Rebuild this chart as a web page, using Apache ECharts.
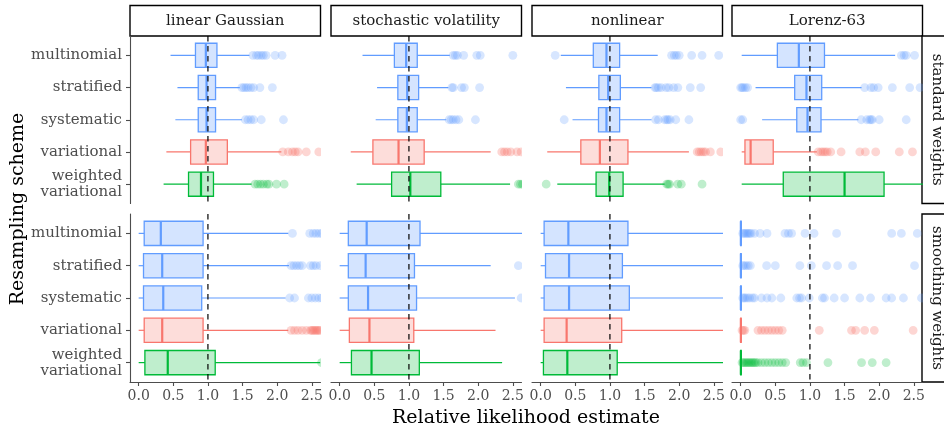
<!DOCTYPE html>
<html>
<head>
<meta charset="utf-8">
<script src="https://cdn.jsdelivr.net/npm/echarts@6/dist/echarts.min.js"></script>
<style>html,body{margin:0;padding:0;background:#fff}#c{width:944px;height:431px}</style>
</head>
<body>
<div id="c"></div>
<script>
// ---------- data ----------
const schemes = ['multinomial', 'stratified', 'systematic', 'variational', 'weighted\nvariational'];
const models = ['linear Gaussian', 'stochastic volatility', 'nonlinear', 'Lorenz-63'];
const weightings = ['standard weights', 'smoothing weights'];
const xTicks = [0, 0.5, 1, 1.5, 2, 2.5];
const refValue = 1;

// box stats per scheme: [lower whisker, Q1, median, Q3, upper whisker]
const boxLinGaussStd = [[0.46,0.82,0.97,1.13,1.60],[0.56,0.86,0.98,1.11,1.46],[0.53,0.86,0.98,1.11,1.49],[0.40,0.75,0.97,1.28,2.06],[0.36,0.72,0.90,1.08,1.63]];
const outLinGaussStd = [[1.65,1.70,1.73,1.77,1.80,1.84,1.97,2.07],[1.49,1.52,1.55,1.58,1.62,1.66,1.75,1.93],[1.54,1.58,1.62,1.66,1.77,2.09],[2.08,2.16,2.22,2.26,2.30,2.42,2.60],[1.68,1.72,1.76,1.80,1.85,1.88,1.99,2.10]];
const boxLinGaussSmo = [[0.0,0.08,0.32,0.93,2.16],[0.0,0.07,0.34,0.93,2.17],[0.0,0.07,0.355,0.91,2.12],[0.0,0.08,0.34,0.93,2.16],[0.0,0.09,0.42,1.105,2.62]];
const outLinGaussSmo = [[2.22,2.47,2.52,2.56,2.60,2.64],[2.20,2.24,2.28,2.32,2.36,2.48,2.52,2.56,2.62],[2.18,2.25,2.45,2.50,2.55,2.60,2.64],[2.20,2.25,2.30,2.36,2.42,2.48,2.50,2.52,2.54,2.56,2.58,2.60,2.62],[2.64]];

const boxStochVolStd = [[0.33,0.79,0.96,1.12,1.59],[0.54,0.84,0.975,1.14,1.57],[0.52,0.84,0.97,1.12,1.54],[0.16,0.48,0.85,1.22,2.18],[0.245,0.75,1.02,1.46,2.46]];
const outStochVolStd = [[1.64,1.67,1.70,1.79,1.98,2.03,2.50],[1.62,1.64,1.76,1.80,2.02],[1.58,1.61,1.64,1.68,1.72,1.96],[2.34,2.38,2.42,2.47,2.56,2.62],[2.58,2.61,2.64]];
const boxStochVolSmo = [[0.0,0.125,0.39,1.16,2.70],[0.0,0.125,0.375,1.08,2.18],[0.0,0.125,0.41,1.11,2.53],[0.0,0.14,0.43,1.07,2.25],[0.0,0.17,0.46,1.15,2.345]];
const outStochVolSmo = [[],[2.58],[2.62],[],[]];

const boxNonlinStd = [[0.29,0.76,0.95,1.14,1.69],[0.365,0.84,0.975,1.15,1.60],[0.46,0.835,0.95,1.14,1.60],[0.095,0.58,0.855,1.26,2.14],[0.24,0.80,0.99,1.19,1.79]];
const outNonlinStd = [[0.21,1.89,1.93,1.96,2.00,2.18,2.33,2.57],[1.65,1.67,1.70,1.74,1.81,1.85,1.92,1.98,2.16,2.31],[0.34,1.66,1.70,1.79,1.82,1.84,1.87,1.95,2.14],[2.26,2.29,2.32,2.35,2.38,2.45,2.60],[0.08,1.82,1.84,1.86,1.98,2.03,2.33]];
const boxNonlinSmo = [[0.0,0.05,0.40,1.26,2.80],[0.0,0.07,0.41,1.18,2.80],[0.0,0.05,0.41,1.28,2.80],[0.0,0.05,0.375,1.17,2.80],[0.0,0.04,0.385,1.105,2.80]];
const outNonlinSmo = [[],[],[],[],[]];

const boxLorenzStd = [[0.015,0.53,0.84,1.21,2.23],[0.215,0.78,0.95,1.17,1.745],[0.31,0.81,0.965,1.16,1.70],[0.015,0.062,0.144,0.47,1.10],[0.015,0.615,1.50,2.07,2.80]];
const outLorenzStd = [[2.32,2.36,2.39,2.51],[0.0,0.02,0.04,0.07,0.10,1.79,1.88,1.92,1.985,2.19,2.44,2.59],[0.0,0.03,1.74,1.82,1.86,1.88,1.90,2.0,2.39],[1.12,1.16,1.19,1.22,1.25,1.30,1.45,1.72,1.80,1.95,2.29,2.48],[]];
const boxLorenzSmo = [[0.0,0.0,0.003,0.008,0.02],[0.0,0.0,0.003,0.008,0.02],[0.0,0.0,0.003,0.008,0.02],[0.0,0.0,0.003,0.008,0.02],[0.0,0.0,0.003,0.008,0.02]];
const outLorenzSmo = [
  [0.03,0.05,0.07,0.09,0.11,0.13,0.15,0.20,0.28,0.38,0.64,0.69,0.735,0.93,1.06,1.385,2.18,2.32,2.55],
  [0.03,0.05,0.08,0.11,0.14,0.375,0.50,0.855,1.02,1.24,1.40,1.615,2.51],
  [0.03,0.05,0.07,0.10,0.13,0.17,0.20,0.30,0.38,0.45,0.58,0.81,0.85,0.88,0.99,1.18,1.21,1.35,1.50,1.72,1.875,2.10,2.18,2.35,2.61],
  [0.02,0.04,0.06,0.25,0.30,0.35,0.40,0.45,0.50,0.55,0.60,1.135,1.60,1.66,1.79,1.93,2.49],
  [0.02,0.04,0.06,0.08,0.10,0.12,0.14,0.16,0.18,0.20,0.22,0.25,0.30,0.35,0.40,0.45,0.50,0.55,0.60,0.65,0.86,0.90,0.95,1.26,1.745,1.90,2.10]
];

const panelBoxes = [[boxLinGaussStd, boxStochVolStd, boxNonlinStd, boxLorenzStd],[boxLinGaussSmo, boxStochVolSmo, boxNonlinSmo, boxLorenzSmo]];
const panelOutliers = [[outLinGaussStd, outStochVolStd, outNonlinStd, outLorenzStd],[outLinGaussSmo, outStochVolSmo, outNonlinSmo, outLorenzSmo]];

// ---------- style ----------
const lineCol = ['#619CFF','#619CFF','#619CFF','#F8766D','#00BA38'];
const fillCol = ['rgba(97,156,255,0.27)','rgba(97,156,255,0.27)','rgba(97,156,255,0.27)','rgba(248,118,109,0.25)','rgba(0,186,56,0.25)'];
const ptCol = ['rgba(97,156,255,0.25)','rgba(97,156,255,0.25)','rgba(97,156,255,0.25)','rgba(248,118,109,0.3)','rgba(0,186,56,0.25)'];
const FONT = '"DejaVu Serif", serif';
const colLeft = [130, 331, 532, 732];
const colW = 190.5;
const rowTop = [36, 214];
const rowH = [167.5, 168];

function renderBox(params, api) {
  const y = api.value(0);
  const p = [1,2,3,4,5].map(i => api.coord([api.value(i), y]));
  const h = Math.abs(api.size([0, 0.75])[1]);
  const cy = p[0][1];
  const c = lineCol[y];
  return {type:'group', children:[
    {type:'line', shape:{x1:p[0][0], y1:cy, x2:p[1][0], y2:cy}, style:{stroke:c, lineWidth:1.2}},
    {type:'line', shape:{x1:p[3][0], y1:cy, x2:p[4][0], y2:cy}, style:{stroke:c, lineWidth:1.2}},
    {type:'rect', shape:{x:p[1][0], y:cy-h/2, width:p[3][0]-p[1][0], height:h}, style:{fill:fillCol[y], stroke:c, lineWidth:1.3}},
    {type:'line', shape:{x1:p[2][0], y1:cy-h/2, x2:p[2][0], y2:cy+h/2}, style:{stroke:c, lineWidth:2.2}}
  ]};
}
function renderPoint(params, api) {
  const y = api.value(1);
  const p = api.coord([api.value(0), y]);
  return {type:'circle', shape:{cx:p[0], cy:p[1], r:4.4}, style:{fill:ptCol[y]}};
}

const grids = [], xAxes = [], yAxes = [], series = [];
for (let r = 0; r < 2; r++) {
  for (let c = 0; c < 4; c++) {
    const gi = r*4 + c;
    const bottom = r === 1, left = c === 0;
    grids.push({left: colLeft[c], top: rowTop[r], width: colW, height: rowH[r], containLabel:false, outerBoundsMode:'none'});
    xAxes.push({gridIndex: gi, type:'value', min:-0.125, max:2.625, splitLine:{show:false},
      axisLine:{show:bottom, onZero:false, lineStyle:{color:'#4d4d4d', width:1.1}},
      axisTick:{show:bottom, length:4, customValues:xTicks, lineStyle:{color:'#4d4d4d', width:1.1}},
      axisLabel:{show:bottom, customValues:xTicks, formatter: v => Number(v).toFixed(1), color:'#4d4d4d', fontFamily:FONT, fontSize:14, margin:7}
    });
    yAxes.push({gridIndex: gi, type:'value', min:-0.6, max:4.6, inverse:true, splitLine:{show:false},
      axisLine:{show:left, onZero:false, lineStyle:{color:'#4d4d4d', width:1.1}},
      axisTick:{show:left, length:4, customValues:[0,1,2,3,4], lineStyle:{color:'#4d4d4d', width:1.1}},
      axisLabel:{show:left, customValues:[0,1,2,3,4], formatter: v => schemes[v], color:'#4d4d4d', fontFamily:FONT, fontSize:15, lineHeight:16, margin:8}
    });
    const boxes = panelBoxes[r][c];
    series.push({type:'custom', xAxisIndex:gi, yAxisIndex:gi, clip:true, renderItem:renderBox,
      encode:{x:[1,2,3,4,5], y:0}, data: boxes.map((b,i) => [i].concat(b)), z:2});
    const pts = [];
    panelOutliers[r][c].forEach((arr, i) => arr.forEach(v => pts.push([v, i])));
    series.push({type:'custom', xAxisIndex:gi, yAxisIndex:gi, clip:true, renderItem:renderPoint,
      encode:{x:0, y:1}, data: pts, z:3});
    series.push({type:'line', xAxisIndex:gi, yAxisIndex:gi, symbol:'none', silent:true, z:4,
      data:[[refValue,-0.6],[refValue,4.6]], lineStyle:{color:'#000', width:1.2, type:[5.5,4.5]}});
  }
}

const graphics = [];
models.forEach((m, c) => {
  graphics.push({type:'rect', shape:{x:colLeft[c], y:5.5, width:colW, height:30.5}, style:{fill:'#fff', stroke:'#000', lineWidth:1.4}});
  graphics.push({type:'text', x:colLeft[c]+colW/2, y:21, style:{text:m, textAlign:'center', textVerticalAlign:'middle', font:'15px '+FONT, fill:'#1a1a1a'}});
});
weightings.forEach((w, r) => {
  graphics.push({type:'rect', shape:{x:922, y:rowTop[r], width:40, height:rowH[r]}, style:{fill:'#fff', stroke:'#000', lineWidth:1.4}});
  graphics.push({type:'text', x:937, y:rowTop[r]+rowH[r]/2, rotation:-Math.PI/2, style:{text:w, textAlign:'center', textVerticalAlign:'middle', font:'15px '+FONT, fill:'#1a1a1a'}});
});
graphics.push({type:'text', x:526, y:418, style:{text:'Relative likelihood estimate', textAlign:'center', textVerticalAlign:'middle', font:'19px '+FONT, fill:'#000'}});
graphics.push({type:'text', x:18, y:209, rotation:Math.PI/2, style:{text:'Resampling scheme', textAlign:'center', textVerticalAlign:'middle', font:'19px '+FONT, fill:'#000'}});

const chart = echarts.init(document.getElementById('c'), null, {renderer:'canvas'});
chart.setOption({animation:false, backgroundColor:'#fff', grid:grids, xAxis:xAxes, yAxis:yAxes, series:series, graphic:graphics});
</script>
</body>
</html>
